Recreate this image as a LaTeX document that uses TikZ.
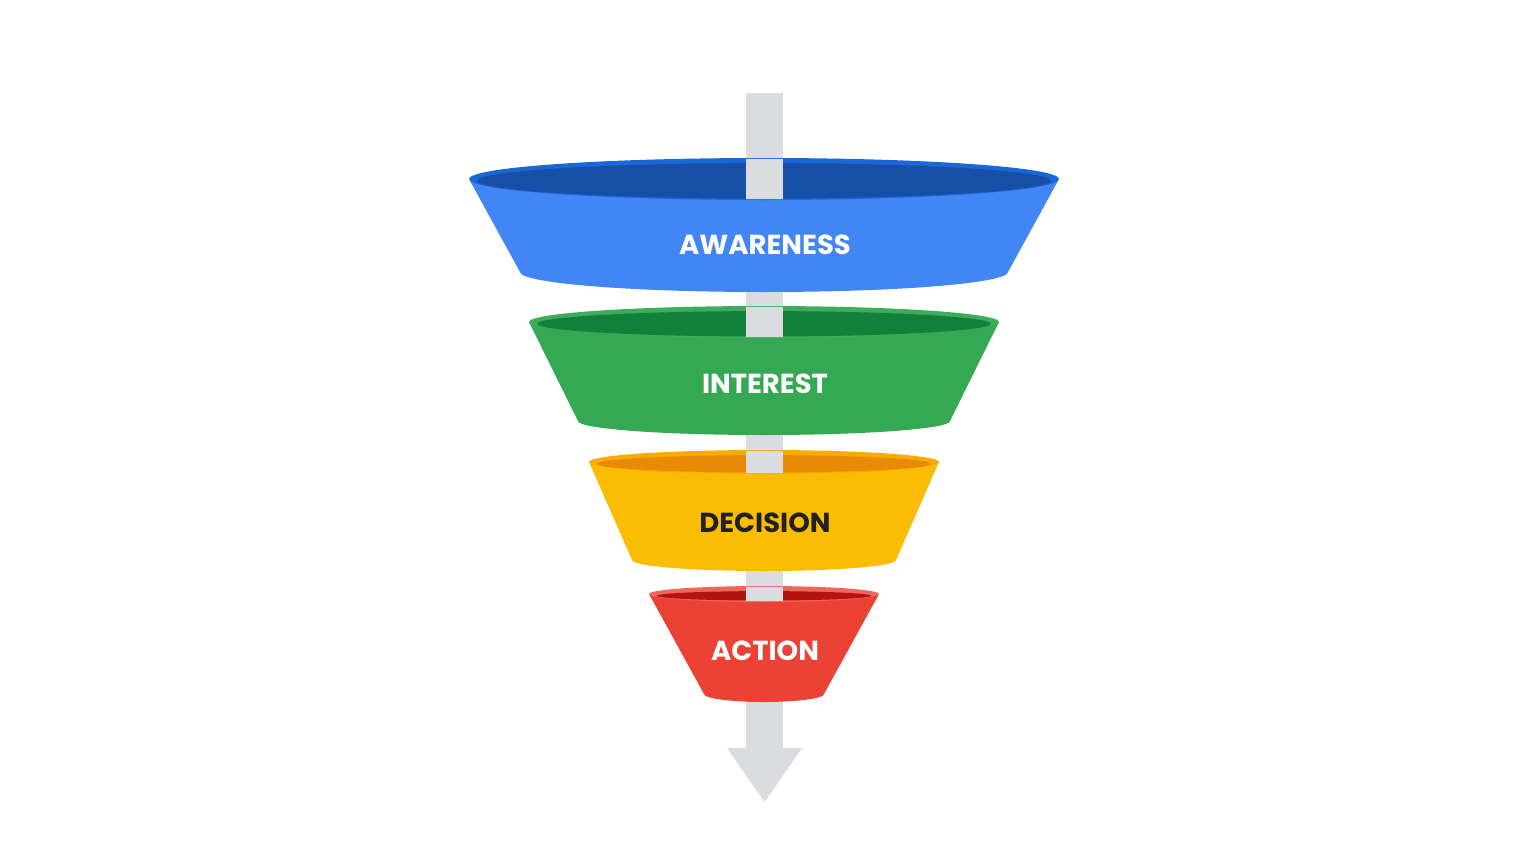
\documentclass[tikz,border=0pt]{standalone}
\usepackage{fontspec}
\newfontfamily\labelfont{Poppins}
\definecolor{barg}{HTML}{DADCE0}
\definecolor{bBody}{HTML}{4285F4}
\definecolor{bRim}{HTML}{1A67D6}
\definecolor{bIn}{HTML}{174EA6}
\definecolor{gBody}{HTML}{34A853}
\definecolor{gRim}{HTML}{3DAD5B}
\definecolor{gIn}{HTML}{12803A}
\definecolor{yBody}{HTML}{FBBC04}
\definecolor{yRim}{HTML}{F9AB00}
\definecolor{yIn}{HTML}{E88A06}
\definecolor{rBody}{HTML}{EA4335}
\definecolor{rRim}{HTML}{EE675C}
\definecolor{rIn}{HTML}{B31412}
\definecolor{darktext}{HTML}{202124}
\tikzset{
  stagelabel/.style={font=\labelfont\bfseries\fontsize{27.5}{30}\selectfont, inner sep=0pt, anchor=center},
}
% #1 top cy, #2 top rx, #3 top ry, #4 bottom cy, #5 bottom rx, #6 bottom ry, #7 body, #8 rim, #9 inner
\newcommand\funnelpart[9]{%
  \fill[#7] ({764-#2},#1) -- ({764-#5},#4) arc[start angle=180, end angle=0, x radius=#5, y radius=#6] -- ({764+#2},#1) -- cycle;
  \fill[#8] (764,#1) ellipse [x radius=#2, y radius=#3];
  \fill[#9] (764,{#1+1.8}) ellipse [x radius={#2-8}, y radius={#3-3.3}];
  \begin{scope}
    \clip (764,#1) ellipse [x radius=#2, y radius={#3-0.8}];
    \fill[barg] (745.5,80) rectangle (782.5,760);
  \end{scope}
}
\begin{document}
\begin{tikzpicture}[x=1pt,y=-1pt]
\useasboundingbox (0,0) rectangle (1529,860);
% grey arrow behind
\fill[barg] (745.5,93) rectangle (782.5,749);
\fill[barg] (727,748) -- (802,748) -- (764.5,802) -- cycle;
\funnelpart{179}{295}{21}{272}{244}{20}{bBody}{bRim}{bIn}
\funnelpart{322}{235}{16}{421}{186}{14}{gBody}{gRim}{gIn}
\funnelpart{462}{175}{12}{560}{132}{11}{yBody}{yRim}{yIn}
\funnelpart{594}{115}{8}{694}{60}{8}{rBody}{rRim}{rIn}
\node[stagelabel, text=white] (awareness) at (765,245) {AWARENESS};
\node[stagelabel, text=white] (interest) at (765,384) {INTEREST};
\node[stagelabel, text=darktext] (decision) at (765,523) {DECISION};
\node[stagelabel, text=white] (action) at (765,651) {ACTION};
\end{tikzpicture}
\end{document}
